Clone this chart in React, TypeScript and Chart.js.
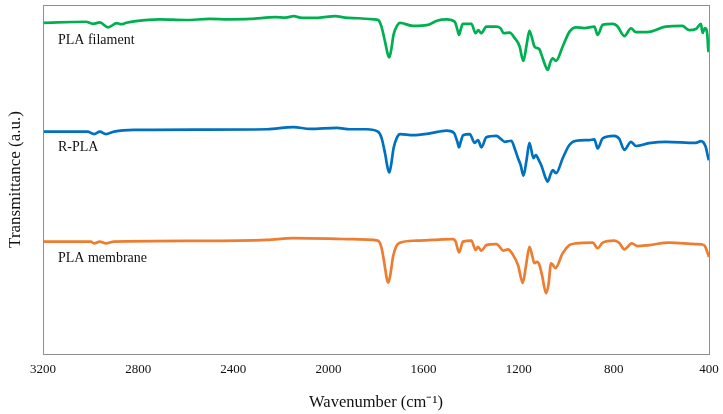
import React, { useEffect, useRef } from "react";
import { Chart, registerables } from "chart.js";

Chart.register(...registerables);

// FTIR spectra: [wavenumber (cm-1), transmittance (a.u., offset per sample)]
const plaFilament: [number, number][] = [
  [3200, 94.9], [3020, 95.2], [2990, 94.6], [2961, 95.0], [2926, 93.6], [2890, 94.8],
  [2870, 94.5], [2850, 94.9], [2810, 95.4], [2710, 95.9], [2600, 95.7], [2500, 96.0],
  [2418, 95.9], [2328, 96.0], [2223, 96.5], [2181, 96.4], [2145, 96.8], [2119, 96.4],
  [2056, 96.3], [2010, 96.6], [1972, 96.8], [1930, 96.4], [1875, 96.2], [1808, 95.9],
  [1791, 95.7], [1777, 93.8], [1762, 89.5], [1750, 85.8], [1744, 85.0], [1737, 86.8],
  [1726, 91.5], [1712, 94.0], [1699, 94.9], [1645, 94.0], [1582, 94.3], [1544, 95.5],
  [1504, 95.9], [1469, 95.2], [1458, 93.0], [1451, 91.4], [1443, 93.2], [1435, 94.6],
  [1399, 94.6], [1381, 91.9], [1370, 92.8], [1357, 91.9], [1336, 93.8], [1294, 93.8],
  [1276, 93.3], [1263, 91.9], [1238, 92.1], [1217, 90.5], [1196, 88.1], [1186, 85.0],
  [1180, 84.0], [1167, 88.5], [1155, 92.6], [1144, 90.5], [1134, 88.1], [1123, 87.7],
  [1113, 87.3], [1104, 85.7], [1088, 82.6], [1078, 81.4], [1066, 83.8], [1057, 84.7],
  [1043, 84.0], [1015, 88.1], [987, 92.3], [959, 93.6], [924, 93.4], [882, 93.8],
  [868, 91.4], [847, 94.3], [805, 94.6], [786, 94.0], [756, 91.1], [728, 93.3],
  [707, 92.2], [652, 92.3], [582, 93.8], [512, 94.0], [484, 92.8], [455, 93.1],
  [434, 94.6], [427, 92.0], [417, 93.4], [407, 91.4], [403, 87.1], [400, 86.5],
];

const rPla: [number, number][] = [
  [3200, 63.7], [3013, 63.7], [2985, 63.0], [2961, 63.7], [2936, 63.0], [2901, 63.7],
  [2817, 64.2], [2538, 64.3], [2258, 64.4], [2147, 65.0], [2077, 64.5], [1965, 64.8],
  [1909, 64.4], [1839, 64.4], [1792, 63.7], [1777, 62.0], [1762, 57.5], [1750, 53.0],
  [1744, 52.0], [1737, 54.0], [1726, 59.0], [1712, 62.0], [1699, 63.0], [1645, 62.7],
  [1574, 63.2], [1504, 64.0], [1473, 63.4], [1458, 60.8], [1451, 59.2], [1443, 61.0],
  [1434, 62.7], [1406, 63.0], [1385, 60.5], [1371, 61.3], [1357, 59.2], [1336, 62.1],
  [1294, 62.5], [1273, 61.5], [1259, 60.8], [1231, 61.1], [1217, 58.9], [1203, 56.1],
  [1192, 54.2], [1180, 51.1], [1167, 55.6], [1155, 60.5], [1138, 56.1], [1128, 57.0],
  [1116, 55.6], [1104, 53.9], [1088, 50.6], [1078, 49.4], [1066, 51.5], [1057, 52.7],
  [1043, 51.8], [1015, 56.1], [987, 59.9], [959, 61.1], [903, 61.3], [882, 61.5],
  [868, 58.9], [847, 61.8], [798, 62.5], [777, 61.6], [756, 58.5], [728, 60.8],
  [707, 59.6], [652, 60.4], [582, 60.8], [456, 60.5], [434, 61.0], [414, 59.4],
  [403, 56.1], [400, 55.5],
];

const plaMembrane: [number, number][] = [
  [3200, 32.2], [2999, 32.2], [2985, 31.7], [2961, 32.2], [2936, 31.7], [2902, 32.2],
  [2538, 32.4], [2258, 32.7], [2147, 33.2], [1965, 33.0], [1909, 32.9], [1792, 32.5],
  [1777, 30.5], [1764, 25.6], [1754, 21.4], [1748, 20.5], [1740, 22.6], [1728, 28.0],
  [1714, 31.0], [1699, 31.9], [1629, 32.5], [1560, 32.7], [1476, 32.9], [1465, 32.2],
  [1451, 29.1], [1434, 32.2], [1399, 32.5], [1381, 29.8], [1371, 30.7], [1357, 29.6],
  [1336, 31.2], [1294, 31.5], [1280, 30.7], [1266, 29.6], [1245, 30.0], [1224, 28.4],
  [1203, 25.5], [1183, 20.4], [1169, 25.5], [1155, 30.7], [1144, 28.4], [1134, 26.0],
  [1123, 26.4], [1113, 25.5], [1102, 22.6], [1085, 17.4], [1075, 19.8], [1064, 26.0],
  [1056, 25.5], [1046, 24.6], [1015, 28.9], [987, 31.2], [959, 31.7], [889, 31.9],
  [868, 30.3], [847, 31.9], [798, 32.5], [777, 31.8], [756, 30.0], [724, 31.7],
  [701, 30.9], [652, 31.2], [568, 31.9], [456, 31.5], [430, 31.4], [417, 30.9],
  [403, 28.4], [400, 27.8],
];

const seriesNames = ["PLA filament", "R-PLA", "PLA membrane"];
const seriesColors = ["#00B050", "#0070C0", "#ED7D31"];
const xTicks = [3200, 2800, 2400, 2000, 1600, 1200, 800, 400];

const SERIF = "'Liberation Serif', 'Times New Roman', serif";

// sample names written inside the plot, just under each trace
const nameAnchors = { wavenumber: 3137, levels: [90, 59.3, 27.5] };

const framePlugin = {
  id: "frame",
  afterDraw(chart: any) {
    const { ctx, chartArea } = chart;
    ctx.save();
    ctx.strokeStyle = "#8f8f8f";
    ctx.lineWidth = 1;
    ctx.strokeRect(
      Math.round(chartArea.left) + 0.5,
      Math.round(chartArea.top) + 0.5,
      Math.round(chartArea.right - chartArea.left),
      Math.round(chartArea.bottom - chartArea.top)
    );
    ctx.restore();
  },
};

const namesPlugin = {
  id: "sampleNames",
  afterDatasetsDraw(chart: any) {
    const { ctx, scales } = chart;
    ctx.save();
    ctx.font = `14px ${SERIF}`;
    ctx.fillStyle = "#111";
    ctx.textAlign = "left";
    ctx.textBaseline = "middle";
    seriesNames.forEach((name, i) => {
      ctx.fillText(
        name,
        scales.x.getPixelForValue(nameAnchors.wavenumber),
        scales.y.getPixelForValue(nameAnchors.levels[i])
      );
    });
    ctx.restore();
  },
};

export default function App() {
  const canvasRef = useRef<HTMLCanvasElement | null>(null);

  useEffect(() => {
    if (!canvasRef.current) return;
    const spectra = [plaFilament, rPla, plaMembrane];
    const chart = new Chart(canvasRef.current, {
      type: "line",
      data: {
        datasets: spectra.map((s, i) => ({
          label: seriesNames[i],
          data: s.map(([x, y]) => ({ x, y })),
          borderColor: seriesColors[i],
          backgroundColor: seriesColors[i],
          borderWidth: 2.7,
          pointRadius: 0,
          cubicInterpolationMode: "monotone" as const,
          fill: false,
        })),
      },
      options: {
        animation: false,
        responsive: false,
        maintainAspectRatio: false,
        layout: { padding: { top: 5, right: 14, bottom: 0, left: 0 } },
        plugins: {
          legend: { display: false },
          tooltip: { enabled: false },
        },
        scales: {
          x: {
            type: "linear",
            reverse: true,
            min: 400,
            max: 3200,
            afterBuildTicks: (scale: any) => {
              scale.ticks = xTicks.map((v) => ({ value: v }));
            },
            afterFit: (scale: any) => {
              scale.height = 60;
              scale.paddingLeft = 0;
              scale.paddingRight = 0;
            },
            grid: { display: false, drawTicks: false },
            border: { display: false },
            ticks: {
              autoSkip: false,
              maxRotation: 0,
              padding: 8,
              color: "#111",
              font: { family: SERIF, size: 13 },
              callback: (v: any) => String(v),
            },
            title: {
              display: true,
              text: "Wavenumber (cm\u207B\u00B9)",
              color: "#111",
              font: { family: SERIF, size: 16.5 },
              padding: { top: 0, bottom: 1 },
            },
          },
          y: {
            min: 0,
            max: 100,
            afterFit: (scale: any) => {
              scale.width = 43;
            },
            grid: { display: false },
            border: { display: false },
            ticks: { display: false },
            title: {
              display: true,
              text: "Transmittance (a.u.)",
              color: "#111",
              font: { family: SERIF, size: 17 },
              padding: { top: 5, bottom: 0 },
            },
          },
        },
      },
      plugins: [framePlugin, namesPlugin],
    });
    return () => chart.destroy();
  }, []);

  return (
    <div style={{ position: "absolute", left: 0, top: 0, width: 723, height: 414, background: "#fff" }}>
      <canvas ref={canvasRef} width={723} height={414} style={{ display: "block" }} />
    </div>
  );
}
